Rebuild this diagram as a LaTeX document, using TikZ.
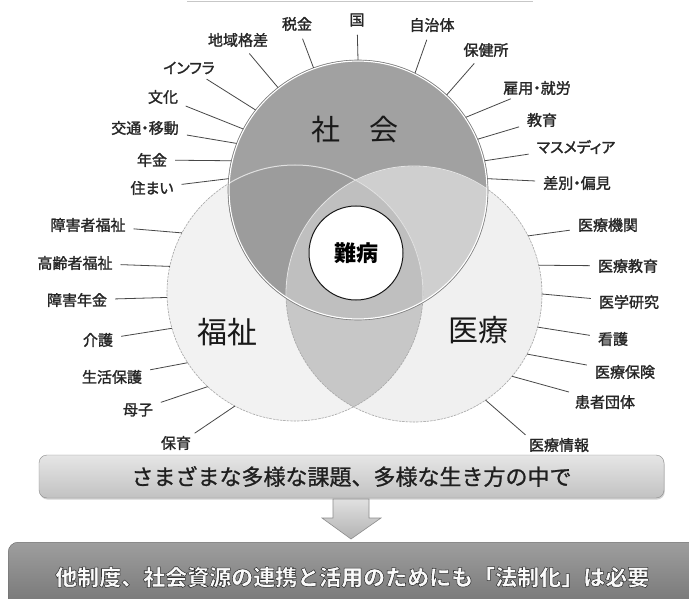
\documentclass[tikz,border=0pt]{standalone}
\usepackage{fontspec}
\setmainfont{Noto Sans CJK JP}
\newfontfamily\labfont{Noto Sans CJK JP}[FakeBold=1.6, RawFeature=+palt]
\newfontfamily\banfont{Noto Sans CJK JP}
\newfontfamily\topfont{Noto Sans CJK JP}[FakeBold=1.0]
\newcommand\outlinedtext[1]{{\color{black!2}\special{pdf:literal direct 2 Tr 0.55 w 0.2 G}#1\special{pdf:literal direct 0 Tr}}}
\usetikzlibrary{shadows}
\begin{document}
\begin{tikzpicture}[x=1pt,y=-1pt,
  lab/.style={font=\labfont\fontsize{15}{15}\selectfont, text=black!85, inner sep=1pt},
  leader/.style={draw=black!72, line width=0.8pt, shorten <=7pt},
  big/.style={font=\fontsize{30}{30}\selectfont, text=black!90},
  ring/.style={circle, inner sep=0pt, outer sep=0pt}
]
\useasboundingbox (0,0) rectangle (689,599);
\fill[white] (0,0) rectangle (689,599);
\draw[black!22, line width=0.8pt] (187,1) -- (533,1);

% circle nodes (geometry)
\node[ring, minimum size=260pt] (S) at (358,190) {};
\node[ring, minimum size=256pt] (F) at (295,293) {};
\node[ring, minimum size=256pt] (I) at (414,294) {};

% fills
\fill[black!5] (F.center) circle[radius=128pt];
\fill[black!6] (I.center) circle[radius=128pt];
\begin{scope}
  \clip (F.center) circle[radius=128pt];
  \fill[black!22] (I.center) circle[radius=128pt];
\end{scope}
\fill[black!37] (S.center) circle[radius=130pt];
\begin{scope}
  \clip (S.center) circle[radius=130pt];
  \fill[black!39] (F.center) circle[radius=128pt];
  \fill[black!19] (I.center) circle[radius=128pt];
  \clip (F.center) circle[radius=128pt];
  \fill[black!25] (I.center) circle[radius=128pt];
\end{scope}
% outlines
\draw[black!35, line width=0.6pt, dash pattern=on 2.5pt off 1pt] (F.center) circle[radius=128pt];
\draw[black!35, line width=0.6pt, dash pattern=on 2.5pt off 1pt] (I.center) circle[radius=128pt];
\begin{scope}
  \clip (S.center) circle[radius=129pt];
  \draw[black!12, line width=1pt] (F.center) circle[radius=128pt];
  \draw[black!10, line width=0.8pt] (I.center) circle[radius=128pt];
\end{scope}
\draw[white, line width=1.2pt] (S.center) circle[radius=129pt];
\draw[black!50, line width=0.6pt] (S.center) circle[radius=130pt];

% centre
\node[circle, draw=black!90, line width=1pt, fill=white, minimum size=94pt, inner sep=0pt,
      font=\fontsize{22}{22}\selectfont\bfseries] (nanbyo) at (356,253) {難病};

% big labels
\node[big, font=\fontsize{29}{29}\selectfont] (shakai) at (355,130) {社\hspace{1em}会};
\node[big] (fukushi) at (227,332) {福祉};
\node[big] (iryo) at (478,330) {医療};

% labels round 社会
\node[lab] (chiiki) at (238,40) {地域格差};
\node[lab] (zeikin) at (297,24) {税金};
\node[lab] (kuni) at (357,20) {国};
\node[lab] (jichi) at (432,25) {自治体};
\node[lab] (hokenjo) at (486,50) {保健所};
\node[lab] (infra) at (189,68) {インフラ};
\node[lab] (koyou) at (537,88) {雇用・就労};
\node[lab] (bunka) at (163,97) {文化};
\node[lab] (kyouiku) at (542,120) {教育};
\node[lab] (koutsu) at (145,128) {交通・移動};
\node[lab] (masu) at (576,147) {マスメディア};
\node[lab] (nenkin) at (152,160) {年金};
\node[lab] (sabetsu) at (577,183) {差別・偏見};
\node[lab] (sumai) at (152,188) {住まい};
\draw[leader] (chiiki) -- (S.128.5);
\draw[leader] (zeikin) -- (S.110.3);
\draw[leader] (kuni) -- (S.90);
\draw[leader] (jichi) -- (S.64.6);
\draw[leader] (hokenjo) -- (S.47.5);
\draw[leader] (infra) -- (S.142.2);
\draw[leader] (koyou) -- (S.34.3);
\draw[leader] (bunka) -- (S.152.7);
\draw[leader] (kyouiku) -- (S.23);
\draw[leader] (koutsu) -- (S.159.3);
\draw[leader] (masu) -- (S.13.3);
\draw[leader] (nenkin) -- (S.167.1);
\draw[leader] (sabetsu) -- (S.5.8);
\draw[leader] (sumai) -- (S.175.6);

% labels round 福祉
\node[lab] (shogaifuku) at (88,225) {障害者福祉};
\node[lab] (koureisha) at (75,263) {高齢者福祉};
\node[lab] (shogainen) at (77,300) {障害年金};
\node[lab] (kaigo) at (98,340) {介護};
\node[lab] (seikatsu) at (112,377) {生活保護};
\node[lab] (boshi) at (138,410) {母子};
\node[lab] (hoiku) at (176,443) {保育};
\draw[leader] (shogaifuku) -- (F.152.4);
\draw[leader] (koureisha) -- (F.168.2);
\draw[leader] (shogainen) -- (F.182.2);
\draw[leader] (kaigo) -- (F.196.4);
\draw[leader] (seikatsu) -- (F.213.6);
\draw[leader] (boshi) -- (F.227.2);
\draw[leader, shorten <=3pt] (hoiku.north east) -- (F.242.6);

% labels round 医療
\node[lab] (kikan) at (608,225) {医療機関};
\node[lab] (iryokyo) at (628,266) {医療教育};
\node[lab] (kenkyu) at (629,302) {医学研究};
\node[lab] (kango) at (613,339) {看護};
\node[lab] (hoken) at (625,372) {医療保険};
\node[lab] (kanja) at (605,402) {患者団体};
\node[lab] (jouhou) at (559,445) {医療情報};
\draw[leader] (kikan) -- (I.27.3);
\draw[leader] (iryokyo) -- (I.13);
\draw[leader] (kenkyu) -- (I.0);
\draw[leader] (kango) -- (I.345.3);
\draw[leader] (hoken) -- (I.332.6);
\draw[leader] (kanja) -- (I.320);
\draw[leader, shorten <=3pt] (jouhou.north west) -- (I.304.4);

% banners
\node[draw=black!45, rounded corners=8pt, top color=black!10, bottom color=black!24,
      minimum width=625pt, minimum height=43pt, inner sep=0pt,
      drop shadow={opacity=0.35, shadow xshift=0.8pt, shadow yshift=-1.6pt},
      font=\topfont\fontsize{22}{22}\selectfont, text=black!88] (b1) at (351.5,476.5)
      {さまざまな多様な課題、多様な生き方の中で};
\path[draw=black!45, line width=0.6pt, top color=black!12, bottom color=black!30]
  (333,499) -- (369,499) -- (369,518) -- (381,518) -- (351,539) -- (322,518) -- (333,518) -- cycle;
\node[draw=black!60, rounded corners=10pt, top color=black!38, bottom color=black!55,
      minimum width=700pt, minimum height=70pt, inner sep=0pt, anchor=north west,
      font=\banfont\bfseries\fontsize{22}{22}\selectfont] (b2) at (8,542)
      {\hspace*{-12pt}\outlinedtext{他制度、社会資源の連携と活用のためにも「法制化」は必要}};
\end{tikzpicture}
\end{document}
